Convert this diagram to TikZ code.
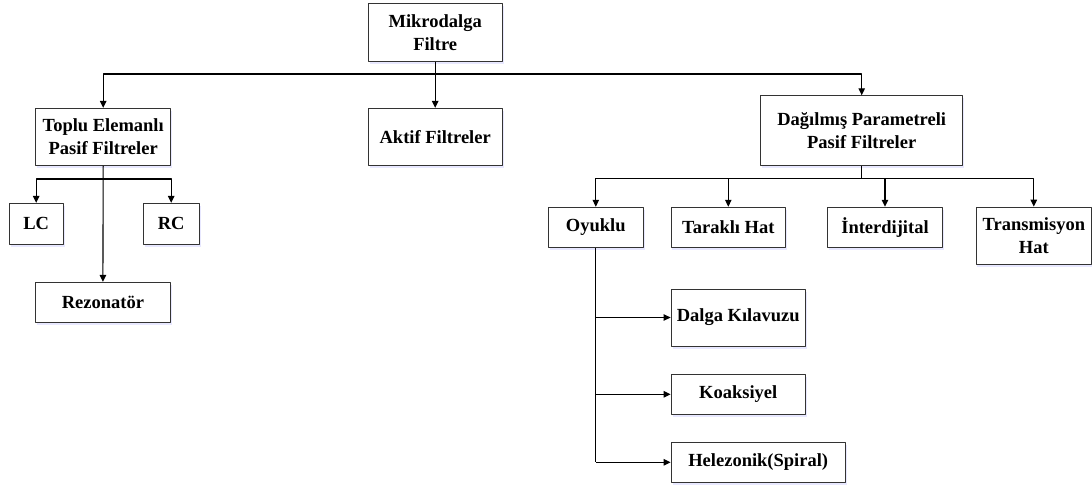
\documentclass[tikz,border=0pt]{standalone}
\usepackage{fontspec}
\setmainfont{Liberation Serif}
\usetikzlibrary{arrows.meta,shadows}
\begin{document}
\begin{tikzpicture}[x=1pt,y=-1pt,line join=round,>={Triangle[length=7pt,width=6.5pt]}]
\tikzset{kutu/.style={draw=black!80,line width=0.9pt,fill=white,align=center,inner sep=0pt,
  font=\fontsize{18.5}{23}\selectfont\bfseries,
  drop shadow={shadow xshift=1.5pt,shadow yshift=-2.5pt,fill=blue!30,opacity=0.3}},
  ok/.style={->,line width=1.1pt}, hat/.style={line width=1.1pt}}
\useasboundingbox (0,0) rectangle (1092,487);
% ust seviye
\node[kutu,minimum width=134pt,minimum height=58pt] (mf) at (435.2,32.2) {Mikrodalga\\Filtre};
\node[kutu,minimum width=135pt,minimum height=57pt] (toplu) at (103.2,136.8) {Toplu Elemanl\i\\Pasif Filtreler};
\node[kutu,minimum width=134pt,minimum height=57pt] (aktif) at (435.2,136.8) {Aktif Filtreler};
\node[kutu,minimum width=202pt,minimum height=69.6pt] (dpf) at (861.7,130.5) {Dağılmış Parametreli\\Pasif Filtreler};
% toplu elemanli
\node[kutu,minimum width=54pt,minimum height=40.7pt] (lc) at (36.2,223.7) {LC};
\node[kutu,minimum width=56pt,minimum height=40.7pt] (rc) at (171.2,223.7) {RC};
\node[kutu,minimum width=134.3pt,minimum height=40pt] (rez) at (102.9,302.3) {Rezonatör};
% dagilmis parametreli
\node[kutu,minimum width=95pt,minimum height=40pt] (oyk) at (595.8,227.2) {Oyuklu};
\node[kutu,minimum width=114.7pt,minimum height=40pt] (tar) at (728.3,227.2) {Taraklı Hat};
\node[kutu,minimum width=114.6pt,minimum height=40pt] (int) at (885,227.2) {İnterdijital};
\node[kutu,minimum width=115.7pt,minimum height=57pt] (trm) at (1033.8,235.6) {Transmisyon\\Hat};
% oyuklu
\node[kutu,minimum width=134.3pt,minimum height=57pt] (dk) at (738.2,317.5) {Dalga Kılavuzu};
\node[kutu,minimum width=134.3pt,minimum height=40pt] (koa) at (738.2,394.3) {Koaksiyel};
\node[kutu,minimum width=174.3pt,minimum height=40pt] (hel) at (758.2,462.3) {Helezonik(Spiral)};
% baglantilar
\coordinate (c1) at (435.2,74);
\coordinate (c2) at (103.3,179);
\coordinate (c3) at (861.7,178.7);
\draw[ok] (mf.south) -- (aktif.north);
\draw[ok] (c1) -| (toplu.north);
\draw[ok] (c1) -| (dpf.north);
\draw[ok] (toplu.south) -- (rez.north);
\draw[ok] (c2) -| (lc.north);
\draw[ok] (c2) -| (rc.north);
\draw[hat] (dpf.south) -- (c3);
\foreach \k in {oyk,tar,int,trm}
  \draw[ok] (c3) -| (\k.north);
\draw[hat] (oyk.south) -- (oyk.south |- hel.west);
\foreach \k in {dk,koa,hel}
  \draw[ok] (oyk.south |- \k.west) -- (\k.west);
\end{tikzpicture}
\end{document}
